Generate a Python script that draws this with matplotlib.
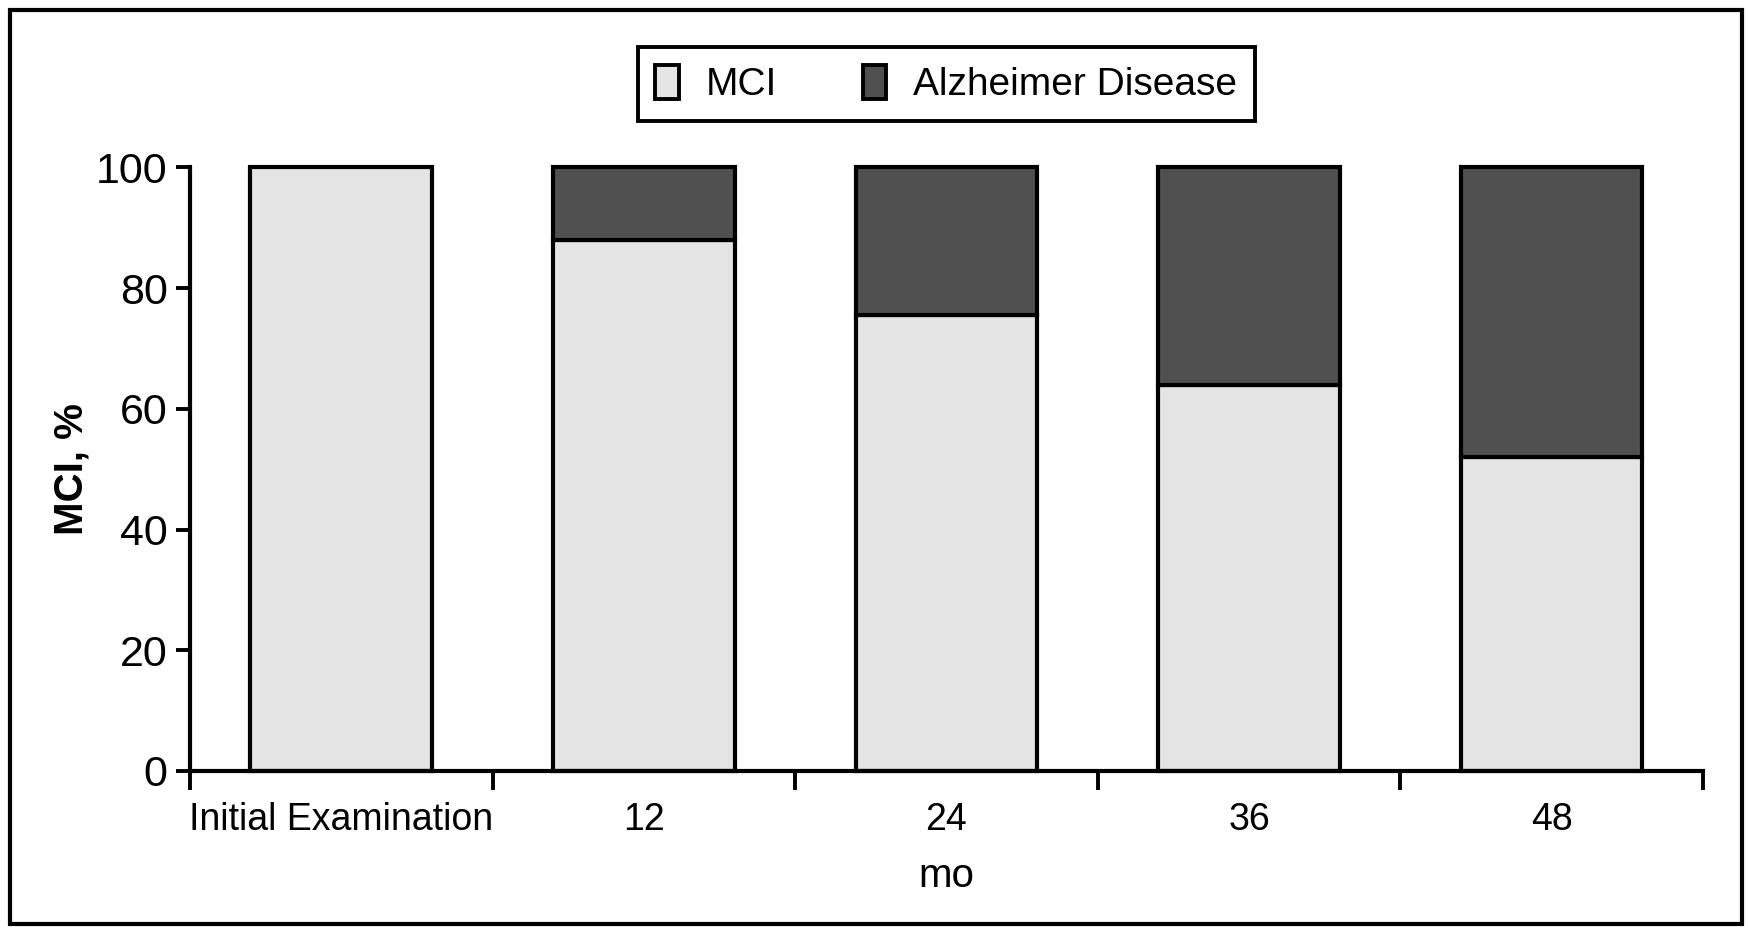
import numpy as np
import matplotlib
matplotlib.use('Agg')
from matplotlib import pyplot as plt
from matplotlib.patches import Rectangle
from matplotlib.ticker import FixedLocator

categories = ['Initial Examination', '12', '24', '36', '48']
mci = [100, 88, 75.5, 64, 52]
alzheimer = [0, 12, 24.5, 36, 48]
y_ticks = [0, 20, 40, 60, 80, 100]

plt.rcParams['font.family'] = ['Liberation Sans Narrow', 'Liberation Sans', 'DejaVu Sans']

light = '#e4e4e4'
dark = '#505050'

fig = plt.figure(figsize=(17.49, 9.30), dpi=100)
ax = fig.add_axes([0.1086, 0.171, 0.865, 0.649])

x = np.arange(len(categories))
b1 = ax.bar(x, mci, width=0.6, color=light, edgecolor='black', linewidth=3, label='MCI')
b2 = ax.bar(x[1:], alzheimer[1:], width=0.6, bottom=mci[1:], color=dark,
            edgecolor='black', linewidth=3, label='Alzheimer Disease')
for p in list(b1) + list(b2):
    p.set_clip_on(False)

ax.set_xlim(-0.5, len(categories) - 0.5)
ax.set_ylim(0, 100)
ax.set_yticks(y_ticks)
ax.tick_params(axis='y', labelsize=31, width=2.8, length=10, pad=6)

# boundary ticks as major, labels at category centres as minor
ax.xaxis.set_major_locator(FixedLocator(np.arange(-0.5, len(categories), 1.0)))
ax.xaxis.set_major_formatter(plt.NullFormatter())
ax.xaxis.set_minor_locator(FixedLocator(x))
ax.set_xticklabels(categories, minor=True)
ax.tick_params(axis='x', which='major', width=2.8, length=14)
ax.tick_params(axis='x', which='minor', length=0, labelsize=27, pad=22)

for s in ['top', 'right']:
    ax.spines[s].set_visible(False)
for s in ['left', 'bottom']:
    ax.spines[s].set_linewidth(3)

ax.set_ylabel('MCI, %', fontsize=29, labelpad=4, fontweight='semibold')
ax.set_xlabel('mo', fontsize=29, labelpad=14)

leg = ax.legend(loc='lower center', bbox_to_anchor=(0.5, 1.045), ncol=2, fontsize=28,
                frameon=True, fancybox=False, edgecolor='black', framealpha=1,
                handlelength=0.6, handleheight=1.0, handletextpad=0.7,
                columnspacing=2.2, borderpad=0.45)
leg.get_frame().set_linewidth(2.8)
for h in leg.legend_handles:
    h.set_linewidth(2.8)

fig.patches.append(Rectangle((0.006, 0.006), 0.99, 0.983, transform=fig.transFigure,
                             fill=False, edgecolor='black', linewidth=3))

plt.savefig('out.png', dpi=100)
